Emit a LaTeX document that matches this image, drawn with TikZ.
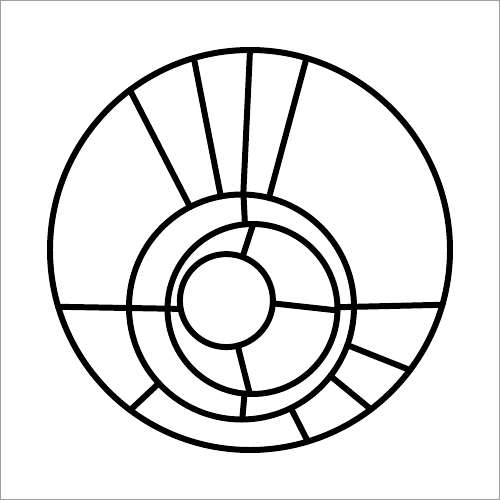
\documentclass[tikz,border=0pt]{standalone}
\usetikzlibrary{calc}

\begin{document}
\begin{tikzpicture}[
        ring/.style={draw, line width=3.4pt},
        spoke/.style={draw, line width=3.4pt, line cap=round},
        frame/.style={draw=gray!75, line width=0.8pt}
    ]
        % Page frame
        \useasboundingbox (-5,-5) rectangle (5,5);
        \draw[frame] (-4.99,-4.99) rectangle (4.99,4.99);

        % Ring centres (not concentric)
        \coordinate (o)  at (0,0);
        \coordinate (c1) at (-0.17,-1.14);
        \coordinate (c2) at (0.05,-1.18);
        \coordinate (c3) at (-0.472,-1.012);

        % Rings
        \draw[ring] (o)  circle (4);
        \draw[ring] (c1) circle (2.25);
        \draw[ring] (c2) circle (1.7);
        \draw[ring] (c3) circle (0.93);

        % Spokes of the outer band: angle on c1 / angle on o
        \foreach \a/\b in {117.2/126.9, 100.6/106.3, 89.1/90, 75.9/73.6,
                           -19.8/-36.9, -37.8/-52.8, -64/-73.2, 222.7/233.2} {
            \draw[spoke] ($(c1)+(\a:2.25)$) -- ($(o)+(\b:4)$);
        }

        % Spokes between the inner rings
        \draw[spoke] ($(c1)+(89:2.25)$)    -- ($(c2)+(95.1:1.7)$);
        \draw[spoke] ($(c2)+(89.5:1.7)$)   -- ($(c3)+(69.7:0.93)$);
        \draw[spoke] ($(c3)+(-76:0.93)$)   -- ($(c2)+(-91.8:1.7)$);
        \draw[spoke] ($(c2)+(-95.4:1.7)$)  -- ($(c1)+(-89.6:2.25)$);

        % Cross bar
        \draw[spoke] ($(o)+(196.5:4)$)     -- ($(c3)+(190.3:0.93)$);
        \draw[spoke] ($(c3)+(-3.4:0.93)$)  -- ($(c2)+(-1:1.7)$);
        \draw[spoke] ($(c2)+(1.2:1.7)$)    -- ($(o)+(-15.9:4)$);

    \end{tikzpicture}
\end{document}
